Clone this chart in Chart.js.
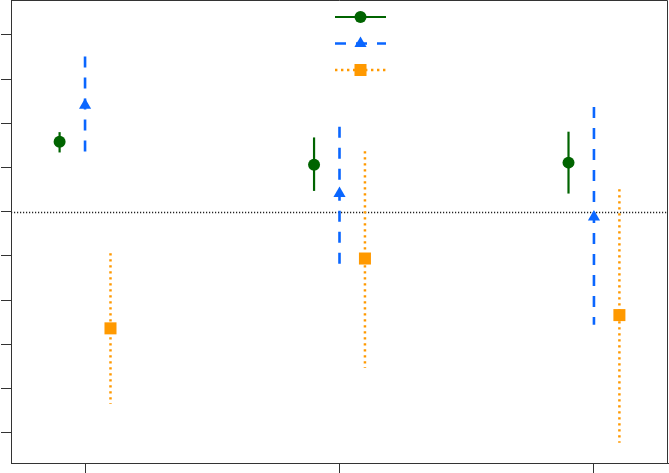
<!DOCTYPE html>
<html><head><meta charset="utf-8">
<script src="https://cdn.jsdelivr.net/npm/chart.js@4"></script>
<style>html,body{margin:0;padding:0;background:#fff}canvas{display:block}</style>
</head><body>
<canvas id="c" width="669" height="473"></canvas>
<script>
// ---- data ----
const categories = [1, 2, 3];
const seriesNames = ['Series 1', 'Series 2', 'Series 3'];
const greenMean = [1.58, 1.06, 1.11];
const greenLow  = [1.34, 0.47, 0.41];
const greenHigh = [1.80, 1.68, 1.81];
const blueMean  = [2.41, 0.41, -0.12];
const blueLow   = [1.35, -1.21, -2.56];
const blueHigh  = [3.51, 1.92, 2.37];
const orangeMean = [-2.64, -1.06, -2.34];
const orangeLow  = [-4.35, -3.54, -5.23];
const orangeHigh = [-0.94, 1.37, 0.51];
const yTickValues = [-5, -4, -3, -2, -1, 0, 1, 2, 3, 4];
const xTickValues = categories;
const referenceValue = 0;

// ---- styling ----
const GREEN = '#006400', BLUE = '#0a66ff', ORANGE = '#ff9900', AXIS = '#333';
const Y_MIN = -5.687, Y_MAX = 4.79, X_MIN = 0.709, X_MAX = 3.291;

function makeSeries(mean, lo, hi, offset) {
  return categories.map((c, i) => ({ x: c + offset, y: mean[i], lo: lo[i], hi: hi[i] }));
}

const datasets = [
  { label: seriesNames[0], data: makeSeries(greenMean, greenLow, greenHigh, -0.1),
    borderColor: GREEN, backgroundColor: GREEN, pointBackgroundColor: GREEN,
    pointStyle: 'circle', pointRadius: 6, errDash: [], errWidth: 2.2 },
  { label: seriesNames[1], data: makeSeries(blueMean, blueLow, blueHigh, 0),
    borderColor: BLUE, backgroundColor: BLUE, pointBackgroundColor: BLUE,
    pointStyle: 'triangle', pointRadius: 7, errDash: [11, 10], errWidth: 2.6 },
  { label: seriesNames[2], data: makeSeries(orangeMean, orangeLow, orangeHigh, 0.1),
    borderColor: ORANGE, backgroundColor: ORANGE, pointBackgroundColor: ORANGE,
    pointStyle: 'rect', pointRadius: 8.5, errDash: [2.4, 3.6], errWidth: 2.5 }
];
datasets.forEach(d => { d.showLine = false; d.pointBorderWidth = 0; d.pointHoverRadius = d.pointRadius; d.clip = false; });

const errorBars = {
  id: 'errorBars',
  beforeDatasetsDraw(chart) {
    const { ctx, chartArea, scales: { x, y } } = chart;
    ctx.save();
    const py = Math.round(y.getPixelForValue(referenceValue)) + 0.5;
    ctx.beginPath();
    ctx.setLineDash([1.2, 1.8]);
    ctx.strokeStyle = '#222';
    ctx.lineWidth = 1.3;
    ctx.moveTo(chartArea.left, py);
    ctx.lineTo(chartArea.right, py);
    ctx.stroke();
    chart.data.datasets.forEach(ds => {
      ctx.setLineDash(ds.errDash);
      ctx.lineWidth = ds.errWidth;
      ctx.strokeStyle = ds.borderColor;
      ctx.lineCap = 'butt';
      ds.data.forEach(d => {
        const px = x.getPixelForValue(d.x);
        ctx.beginPath();
        ctx.moveTo(px, y.getPixelForValue(d.hi));
        ctx.lineTo(px, y.getPixelForValue(d.lo));
        ctx.stroke();
      });
    });
    ctx.restore();
  }
};

const boxAndLegend = {
  id: 'boxAndLegend',
  afterDraw(chart) {
    const { ctx, chartArea } = chart;
    ctx.save();
    // top and right frame lines
    ctx.strokeStyle = AXIS;
    ctx.lineWidth = 1;
    ctx.beginPath();
    ctx.moveTo(chartArea.left, chartArea.top + 0.5);
    ctx.lineTo(chartArea.right - 0.5, chartArea.top + 0.5);
    ctx.lineTo(chartArea.right - 0.5, chartArea.bottom);
    ctx.stroke();
    // legend (no text)
    const x0 = chartArea.left + 324, x1 = chartArea.left + 375, xm = (x0 + x1) / 2;
    const rows = [17, 43.5, 70];
    chart.data.datasets.forEach((ds, i) => {
      const ly = chartArea.top + rows[i];
      ctx.setLineDash(ds.errDash);
      ctx.lineWidth = ds.errWidth;
      ctx.strokeStyle = ds.borderColor;
      ctx.beginPath();
      ctx.moveTo(x0, ly);
      ctx.lineTo(x1, ly);
      ctx.stroke();
      ctx.setLineDash([]);
      ctx.fillStyle = ds.pointBackgroundColor;
      Chart.helpers.drawPoint(ctx, { pointStyle: ds.pointStyle, radius: ds.pointRadius, rotation: 0, borderWidth: 0 }, xm, ly);
    });
    ctx.restore();
  }
};

new Chart(document.getElementById('c'), {
  type: 'scatter',
  data: { datasets },
  options: {
    responsive: false,
    animation: false,
    events: [],
    layout: { autoPadding: false, padding: { left: 1, right: 1, top: 0, bottom: 0 } },
    plugins: { legend: { display: false }, tooltip: { enabled: false } },
    scales: {
      x: {
        type: 'linear', min: X_MIN, max: X_MAX,
        afterBuildTicks: s => { s.ticks = xTickValues.map(v => ({ value: v })); },
        grid: { display: true, drawOnChartArea: false, drawTicks: true, tickLength: 10, color: AXIS, lineWidth: 1 },
        border: { display: true, color: AXIS, width: 1 },
        ticks: { display: false }
      },
      y: {
        type: 'linear', min: Y_MIN, max: Y_MAX,
        afterBuildTicks: s => { s.ticks = yTickValues.map(v => ({ value: v })); },
        grid: { display: true, drawOnChartArea: false, drawTicks: true, tickLength: 10, color: AXIS, lineWidth: 1 },
        border: { display: true, color: AXIS, width: 1 },
        ticks: { display: false }
      }
    }
  },
  plugins: [errorBars, boxAndLegend]
});
</script>
</body></html>
